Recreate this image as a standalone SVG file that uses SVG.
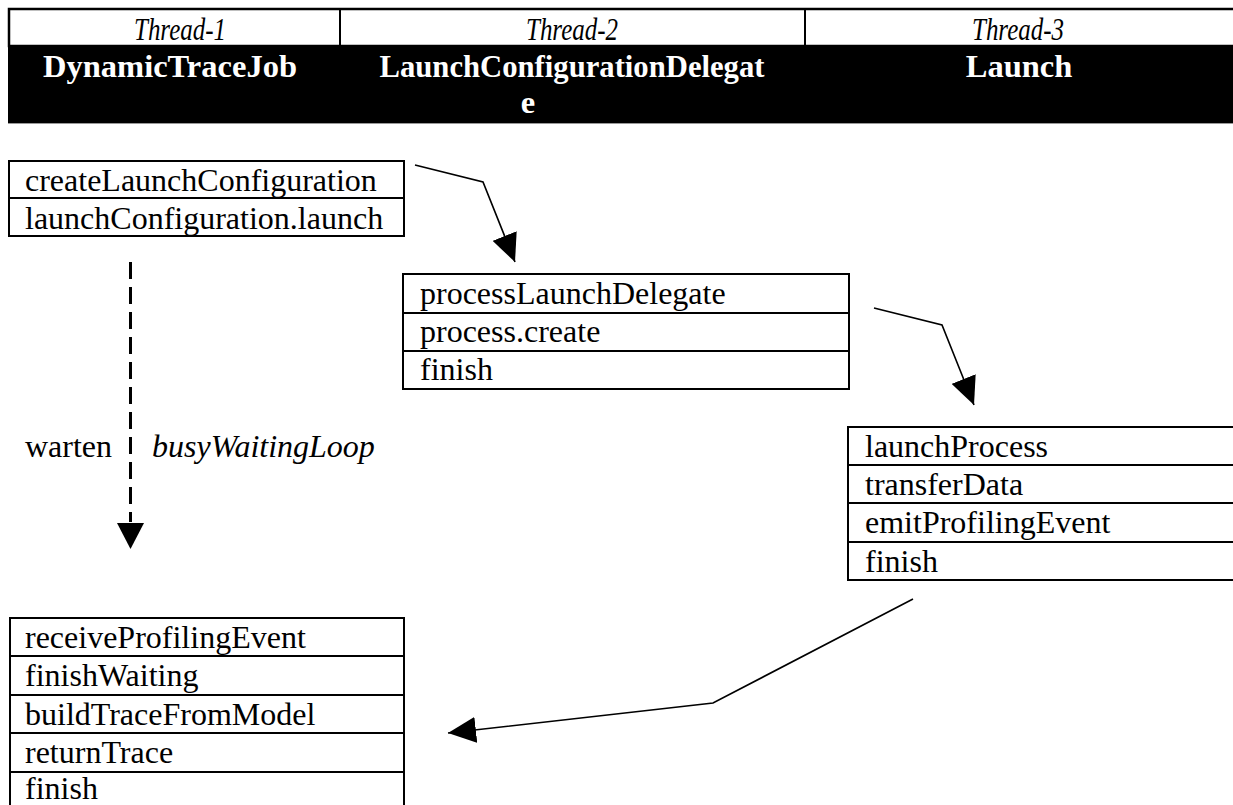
<svg xmlns="http://www.w3.org/2000/svg" width="1233" height="805" viewBox="0 0 1233 805">
  <style>
    text { font-family: "Liberation Serif", "Times New Roman", serif; font-size: 32px; fill: #000; }
    .hdr { font-style: italic; font-size: 31px; text-anchor: middle; }
    .cls { font-weight: bold; font-size: 32.5px; fill: #fff; text-anchor: middle; }
    .box { fill: #fff; stroke: #000; stroke-width: 2; }
    .row { stroke: #000; stroke-width: 2; }
    .flow { fill: none; stroke: #000; stroke-width: 1.6; }
    .wait { fill: none; stroke: #000; stroke-width: 3; stroke-dasharray: 17 8; }
  </style>
  <defs>
    <marker id="head" viewBox="0 0 28 26" refX="28" refY="13" markerWidth="28" markerHeight="26" markerUnits="userSpaceOnUse" orient="auto">
      <path d="M0,0 L28,13 L0,26 z" fill="#000"/>
    </marker>
  </defs>
  <rect width="1233" height="805" fill="#fff"/>

  <!-- thread / class header table -->
  <g id="header">
    <rect x="9" y="9" width="1230" height="37" fill="#fff" stroke="#000" stroke-width="2.5"/>
    <rect x="8" y="46" width="1230" height="77" fill="#000"/>
    <line x1="8" y1="123.5" x2="1233" y2="123.5" stroke="#999" stroke-width="1"/>
    <line x1="340" y1="9" x2="340" y2="46" stroke="#000" stroke-width="2"/>
    <line x1="805" y1="9" x2="805" y2="46" stroke="#000" stroke-width="2"/>
    <text class="hdr" x="180" y="40" textLength="92" lengthAdjust="spacingAndGlyphs">Thread-1</text>
    <text class="hdr" x="572" y="40" textLength="92" lengthAdjust="spacingAndGlyphs">Thread-2</text>
    <text class="hdr" x="1018" y="40" textLength="92" lengthAdjust="spacingAndGlyphs">Thread-3</text>
    <text class="cls" x="170" y="77">DynamicTraceJob</text>
    <text class="cls" x="572" y="77" textLength="385" lengthAdjust="spacingAndGlyphs">LaunchConfigurationDelegat</text>
    <text class="cls" x="528" y="113">e</text>
    <text class="cls" x="1019" y="77">Launch</text>
  </g>

  <!-- Thread-1: start of job -->
  <g id="dtj-start">
    <rect class="box" x="9" y="161" width="395" height="75"/>
    <line class="row" x1="9" y1="198" x2="404" y2="198"/>
    <text x="25" y="191">createLaunchConfiguration</text>
    <text x="25" y="229">launchConfiguration.launch</text>
  </g>

  <!-- Thread-2: launch delegate -->
  <g id="delegate">
    <rect class="box" x="403" y="274" width="446" height="115"/>
    <line class="row" x1="403" y1="313" x2="849" y2="313"/>
    <line class="row" x1="403" y1="351" x2="849" y2="351"/>
    <text x="420" y="304">processLaunchDelegate</text>
    <text x="420" y="342">process.create</text>
    <text x="420" y="380">finish</text>
  </g>

  <!-- Thread-3: launch -->
  <g id="launch">
    <rect class="box" x="848" y="427" width="400" height="153"/>
    <line class="row" x1="848" y1="465" x2="1233" y2="465"/>
    <line class="row" x1="848" y1="503" x2="1233" y2="503"/>
    <line class="row" x1="848" y1="542" x2="1233" y2="542"/>
    <text x="865" y="457">launchProcess</text>
    <text x="865" y="495">transferData</text>
    <text x="865" y="533">emitProfilingEvent</text>
    <text x="865" y="572">finish</text>
  </g>

  <!-- Thread-1: after waiting -->
  <g id="dtj-end">
    <rect class="box" x="10" y="618" width="394" height="200"/>
    <line class="row" x1="10" y1="656" x2="404" y2="656"/>
    <line class="row" x1="10" y1="695" x2="404" y2="695"/>
    <line class="row" x1="10" y1="733" x2="404" y2="733"/>
    <line class="row" x1="10" y1="772" x2="404" y2="772"/>
    <text x="25" y="648">receiveProfilingEvent</text>
    <text x="25" y="686">finishWaiting</text>
    <text x="25" y="725">buildTraceFromModel</text>
    <text x="25" y="763">returnTrace</text>
    <text x="25" y="799">finish</text>
  </g>

  <!-- busy waiting label -->
  <g id="waiting">
    <text x="25" y="457">warten</text>
    <text x="152" y="457" font-style="italic">busyWaitingLoop</text>
  </g>

  <!-- control flow between threads -->
  <g id="connectors">
    <polyline class="flow" points="415,165 483,182 515,262" marker-end="url(#head)"/>
    <polyline class="flow" points="874,308 942,325 974,405" marker-end="url(#head)"/>
    <polyline class="flow" points="913,599 713,703 448,733" marker-end="url(#head)"/>
    <line class="wait" x1="130.5" y1="262" x2="130.5" y2="522"/>
    <path d="M117,523 L144,523 L130.5,549 z" fill="#000"/>
  </g>
</svg>
